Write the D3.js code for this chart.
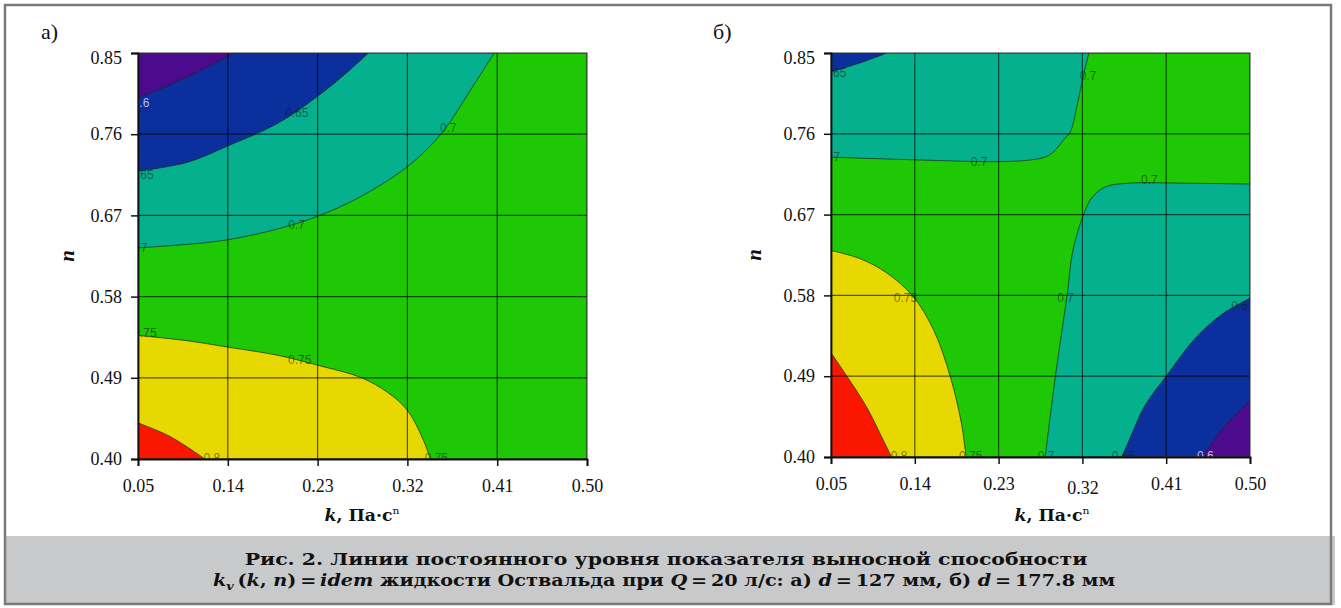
<!DOCTYPE html>
<html>
<head>
<meta charset="utf-8">
<script src="https://cdn.jsdelivr.net/npm/d3@7"></script>
<style>
	body { margin: 0; background: #fff; }
	svg { display: block; }
</style>
</head>
<body>
<svg id="graph"></svg>
<script>
//axis ticks, same for both panels
var kTicks = [0.05, 0.14, 0.23, 0.32, 0.41, 0.50]
var nTicks = [0.40, 0.49, 0.58, 0.67, 0.76, 0.85]

//contour levels of k_v
var levels = [0.6, 0.65, 0.7, 0.75, 0.8]

//а) d = 127 mm, contour lines as [k, n]
var a060 = [[0.05, 0.800], [0.08, 0.814], [0.11, 0.829], [0.146, 0.85]]
var a065 = [[0.05, 0.719], [0.10, 0.729], [0.14, 0.747], [0.19, 0.772], [0.23, 0.802], [0.26, 0.829], [0.281, 0.85]]
var a070 = [[0.05, 0.634], [0.10, 0.638], [0.14, 0.643], [0.19, 0.655], [0.23, 0.669], [0.27, 0.689], [0.32, 0.724], [0.355, 0.762], [0.385, 0.812], [0.407, 0.85]]
var a075 = [[0.05, 0.537], [0.10, 0.531], [0.14, 0.524], [0.19, 0.515], [0.23, 0.504], [0.274, 0.49], [0.30, 0.474], [0.32, 0.454], [0.336, 0.421], [0.343, 0.40]]
var a080 = [[0.05, 0.440], [0.082, 0.425], [0.117, 0.40]]

//б) d = 177.8 mm
var b065top = [[0.05, 0.829], [0.084, 0.840], [0.11, 0.85]]
var b070top = [[0.05, 0.734], [0.14, 0.731], [0.23, 0.729], [0.265, 0.731], [0.282, 0.735], [0.292, 0.743], [0.2995, 0.753], [0.307, 0.762], [0.314, 0.79], [0.320, 0.82], [0.327, 0.85]]
var b070low = [[0.50, 0.704], [0.43, 0.705], [0.37, 0.705], [0.345, 0.701], [0.331, 0.69], [0.322, 0.672], [0.31, 0.631], [0.3035, 0.58], [0.291, 0.49], [0.28, 0.40]]
var b065 = [[0.3625, 0.40], [0.372, 0.423], [0.387, 0.457], [0.41, 0.49], [0.441, 0.532], [0.47, 0.559], [0.50, 0.577]]
var b060 = [[0.448, 0.40], [0.462, 0.42], [0.478, 0.44], [0.50, 0.463]]
var b075 = [[0.05, 0.630], [0.081, 0.621], [0.11, 0.605], [0.138, 0.579], [0.16, 0.542], [0.178, 0.49], [0.19, 0.438], [0.195, 0.40]]
var b080 = [[0.05, 0.516], [0.067, 0.49], [0.088, 0.456], [0.106, 0.419], [0.115, 0.40]]

//labels sitting on the lines [k, n, text]
var aLabels = [[0.053, 0.795, '0.6'], [0.209, 0.783, '0.65'], [0.054, 0.715, '0.65'], [0.361, 0.767, '0.7'],
	[0.209, 0.659, '0.7'], [0.051, 0.634, '0.7'], [0.057, 0.540, '0.75'], [0.212, 0.510, '0.75'],
	[0.124, 0.401, '0.8'], [0.349, 0.401, '0.75']]
var bLabels = [[0.054, 0.828, '0.65'], [0.326, 0.824, '0.7'], [0.051, 0.734, '0.7'], [0.209, 0.729, '0.7'],
	[0.392, 0.708, '0.7'], [0.130, 0.577, '0.75'], [0.302, 0.577, '0.7'], [0.4925, 0.568, '0.65'],
	[0.123, 0.401, '0.8'], [0.200, 0.401, '0.75'], [0.281, 0.401, '0.7'], [0.364, 0.401, '0.65'], [0.452, 0.401, '0.6']]

//colours of the bands, from below 0.6 up to above 0.8
var bandColors = ['#4b0b8c', '#0b2f9c', '#05b08e', '#1ec804', '#e6d800', '#fb1600']

var serif = "'DejaVu Serif', 'Liberation Serif', serif"

var svg = d3.select('#graph')
	.attr('width', 1341)
	.attr('height', 608)

//caption band and frame
svg.append('rect')
	.attr('x', 4).attr('y', 536)
	.attr('width', 1331).attr('height', 69)
	.attr('fill', '#c8c9cb')
svg.append('rect')
	.attr('x', 5).attr('y', 5)
	.attr('width', 1326).attr('height', 599)
	.attr('fill', 'none')
	.attr('stroke', '#7a7a7a')
	.attr('stroke-width', 2.5)

var panels = [
	{id: 'a', letter: 'а)', left: 138, right: 587, top: 53, bottom: 459, letterX: 41, nX: 67, kX: 362,
		labels: aLabels,
		regions: [
			{pts: a070, level: 0.7, corner: 'tl', below: true},
			{pts: a065, level: 0.65, corner: 'tl', below: true},
			{pts: a060, level: 0.6, corner: 'tl', below: true},
			{pts: a075, level: 0.75, corner: 'bl', below: false},
			{pts: a080, level: 0.8, corner: 'bl', below: false}
		]},
	{id: 'b', letter: 'б)', left: 831, right: 1250, top: 53, bottom: 457, letterX: 713, nX: 754, kX: 1052,
		labels: bLabels,
		regions: [
			{pts: b070top, level: 0.7, corner: 'tl', below: true},
			{pts: b065top, level: 0.65, corner: 'tl', below: true},
			{pts: b070low, level: 0.7, corner: 'br', below: true},
			{pts: b065, level: 0.65, corner: 'br', below: true},
			{pts: b060, level: 0.6, corner: 'br', below: true},
			{pts: b075, level: 0.75, corner: 'bl', below: false},
			{pts: b080, level: 0.8, corner: 'bl', below: false}
		]}
]

panels.forEach(drawPanel)
drawCaption()

function drawPanel(p) {
	var x = d3.scaleLinear().domain([kTicks[0], kTicks[kTicks.length - 1]]).range([p.left, p.right])
	var y = d3.scaleLinear().domain([nTicks[0], nTicks[nTicks.length - 1]]).range([p.bottom, p.top])

	var corners = {
		tl: [x.domain()[0], y.domain()[1]],
		tr: [x.domain()[1], y.domain()[1]],
		bl: [x.domain()[0], y.domain()[0]],
		br: [x.domain()[1], y.domain()[0]]
	}

	svg.append('clipPath').attr('id', 'clip-' + p.id)
		.append('rect')
		.attr('x', p.left).attr('y', p.top)
		.attr('width', p.right - p.left).attr('height', p.bottom - p.top)

	var plot = svg.append('g').attr('clip-path', 'url(#clip-' + p.id + ')')

	//the 0.7-0.75 band fills everything, other bands go on top
	plot.append('rect')
		.attr('x', p.left).attr('y', p.top)
		.attr('width', p.right - p.left).attr('height', p.bottom - p.top)
		.attr('fill', bandColors[3])

	var line = d3.line()
		.x(function(d) { return x(d[0]) })
		.y(function(d) { return y(d[1]) })
		.curve(d3.curveCatmullRom.alpha(0.5))

	plot.selectAll('.band')
		.data(p.regions)
		.enter()
		.append('path')
		.attr('class', 'band')
		.attr('d', function(r) {
			var c = corners[r.corner]
			return line(r.pts) + 'L' + x(c[0]) + ',' + y(c[1]) + 'Z'
		})
		.attr('fill', function(r) {
			var i = levels.indexOf(r.level)
			return bandColors[r.below ? i : i + 1]
		})

	plot.selectAll('.iso')
		.data(p.regions)
		.enter()
		.append('path')
		.attr('class', 'iso')
		.attr('d', function(r) { return line(r.pts) })
		.attr('fill', 'none')
		.attr('stroke', '#1c261c')
		.attr('stroke-opacity', 0.8)
		.attr('stroke-width', 0.9)

	//grid
	plot.selectAll('.vgrid')
		.data(kTicks)
		.enter()
		.append('line')
		.attr('x1', function(d) { return x(d) })
		.attr('x2', function(d) { return x(d) })
		.attr('y1', p.top).attr('y2', p.bottom)
		.attr('stroke', '#000').attr('stroke-opacity', 0.62).attr('stroke-width', 1.2)
	plot.selectAll('.hgrid')
		.data(nTicks)
		.enter()
		.append('line')
		.attr('y1', function(d) { return y(d) })
		.attr('y2', function(d) { return y(d) })
		.attr('x1', p.left).attr('x2', p.right)
		.attr('stroke', '#000').attr('stroke-opacity', 0.62).attr('stroke-width', 1.2)

	//contour labels
	plot.selectAll('.lab')
		.data(p.labels)
		.enter()
		.append('text')
		.attr('x', function(d) { return x(d[0]) })
		.attr('y', function(d) { return y(d[1]) })
		.attr('text-anchor', 'middle')
		.attr('dominant-baseline', 'central')
		.attr('font-family', 'Liberation Sans, Arial, sans-serif')
		.attr('font-size', 12)
		.attr('fill', function(d) { return d[2] === '0.6' ? '#dcc8f2' : '#101810' })
		.attr('fill-opacity', function(d) { return d[2] === '0.6' ? 0.9 : 0.55 })
		.text(function(d) { return d[2] })

	//plot border, left and bottom axes darker
	svg.append('rect')
		.attr('x', p.left).attr('y', p.top)
		.attr('width', p.right - p.left).attr('height', p.bottom - p.top)
		.attr('fill', 'none').attr('stroke', '#3a3a3a').attr('stroke-width', 1)

	var yAxis = svg.append('g')
		.attr('transform', 'translate(' + p.left + ',0)')
		.call(d3.axisLeft(y).tickValues(nTicks).tickFormat(d3.format('.2f')).tickSize(7).tickPadding(9))
	var xAxis = svg.append('g')
		.attr('transform', 'translate(0,' + p.bottom + ')')
		.call(d3.axisBottom(x).tickValues(kTicks).tickFormat(d3.format('.2f')).tickSize(7).tickPadding(13))

	;[yAxis, xAxis].forEach(function(ax) {
		ax.attr('font-family', "'Liberation Serif', serif")
			.attr('font-size', 18)
			.attr('color', '#111')
		ax.select('.domain').attr('stroke-width', 1.8)
		ax.selectAll('.tick line').attr('stroke-width', 1.5)
	})

	//top label sits a little lower than its tick
	yAxis.selectAll('.tick text')
		.filter(function(d) { return d === 0.85 })
		.attr('dy', '0.58em')
	if (p.id === 'b') {
		xAxis.selectAll('.tick text')
			.filter(function(d) { return d === 0.32 })
			.attr('y', 24)
	}

	//titles
	svg.append('text')
		.attr('x', p.letterX).attr('y', 39)
		.attr('font-family', "'Liberation Serif', serif")
		.attr('font-size', 22)
		.attr('fill', '#111')
		.text(p.letter)

	svg.append('text')
		.attr('transform', 'translate(' + p.nX + ',' + ((p.top + p.bottom) / 2) + ') rotate(-90)')
		.attr('text-anchor', 'middle')
		.attr('dominant-baseline', 'central')
		.attr('font-family', "'Liberation Serif', serif")
		.attr('font-size', 21)
		.attr('font-weight', 'bold')
		.attr('font-style', 'italic')
		.attr('fill', '#111')
		.text('n')

	var kt = svg.append('text')
		.attr('text-anchor', 'middle')
		.attr('font-family', serif)
		.attr('font-size', 16)
		.attr('font-weight', 'bold')
		.attr('fill', '#111')
	kt.append('tspan').attr('font-style', 'italic').text('k')
	kt.append('tspan').text(', Па·с')
	kt.append('tspan').attr('font-size', 10).attr('font-weight', 'normal').attr('dy', -7).text('n')
	fitWidth(kt, p.kX, 521, 75)
}

function drawCaption() {
	var line1 = svg.append('text')
		.attr('text-anchor', 'middle')
		.attr('font-family', serif)
		.attr('font-size', 16.5)
		.attr('font-weight', 'bold')
		.attr('fill', '#111')
		.text('Рис. 2. Линии постоянного уровня показателя выносной способности')
	fitWidth(line1, 666, 565, 843)

	var parts = [
		['k', 'i'], ['v', 'sub'], ['\u2009(', ''], ['k', 'i'], [', ', ''], ['n', 'i'], [')\u2009=\u2009', ''], ['idem', 'i'],
		[' жидкости Оствальда при ', ''], ['Q', 'i'], ['\u2009=\u200920 л/с: а) ', ''], ['d', 'i'],
		['\u2009=\u2009127 мм, б) ', ''], ['d', 'i'], ['\u2009=\u2009177.8 мм', '']
	]
	var line2 = svg.append('text')
		.attr('text-anchor', 'middle')
		.attr('font-family', serif)
		.attr('font-size', 16.5)
		.attr('font-weight', 'bold')
		.attr('fill', '#111')
	var wasSub = false
	parts.forEach(function(pt) {
		var t = line2.append('tspan').text(pt[0])
		if (pt[1] === 'i') t.attr('font-style', 'italic')
		if (pt[1] === 'sub') {
			t.attr('font-style', 'italic').attr('font-size', 11).attr('dy', 4)
			wasSub = true
		} else if (wasSub) {
			t.attr('dy', -4)
			wasSub = false
		}
	})
	fitWidth(line2, 664, 586, 903)
}

//stretch a text line sideways so it takes the width it has in the picture
function fitWidth(sel, cx, base, target) {
	var w = sel.node().getComputedTextLength()
	sel.attr('transform', 'translate(' + cx + ',' + base + ') scale(' + (target / w) + ',1)')
}
</script>
</body>
</html>
